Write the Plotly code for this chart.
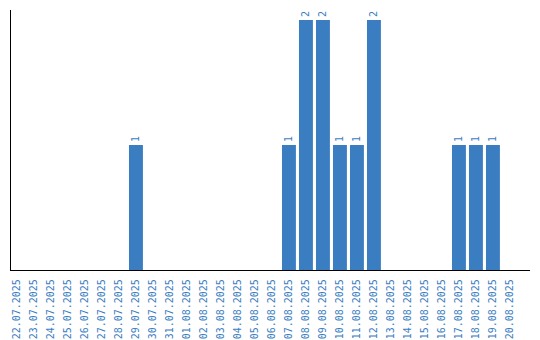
import plotly.graph_objects as go

dates = ["22.07.2025","23.07.2025","24.07.2025","25.07.2025","26.07.2025","27.07.2025","28.07.2025",
         "29.07.2025","30.07.2025","31.07.2025","01.08.2025","02.08.2025","03.08.2025","04.08.2025",
         "05.08.2025","06.08.2025","07.08.2025","08.08.2025","09.08.2025","10.08.2025","11.08.2025",
         "12.08.2025","13.08.2025","14.08.2025","15.08.2025","16.08.2025","17.08.2025","18.08.2025",
         "19.08.2025","20.08.2025"]
counts = [0,0,0,0,0,0,0,1,0,0,0,0,0,0,0,0,1,2,2,1,1,2,0,0,0,0,1,1,1,0]

blue = "#3a7dc1"
labels = [str(c) if c > 0 else "" for c in counts]

fig = go.Figure(go.Bar(
    x=dates, y=counts, marker_color=blue, marker_line_width=0,
    text=labels, textposition="outside", textangle=-90,
    textfont=dict(family="DejaVu Sans Mono", size=10, color=blue),
    cliponaxis=False, width=0.82,
))
fig.update_layout(
    width=540, height=340, margin=dict(l=11, r=10, t=10, b=70),
    paper_bgcolor="white", plot_bgcolor="white", showlegend=False,
    bargap=0.18,
)
fig.update_xaxes(type="category", range=[-0.35, 30.18], showline=True, linecolor="black",
                 linewidth=1.2, ticks="outside", ticklen=4, tickcolor="rgba(0,0,0,0)",
                 showgrid=False, tickangle=-90, automargin=False,
                 tickfont=dict(family="DejaVu Sans Mono", size=10, color=blue))
fig.update_yaxes(range=[0, 2.08], showline=True, linecolor="black", linewidth=1.2,
                 showticklabels=False, ticks="", showgrid=False, zeroline=False)
fig.write_html("out.html")
